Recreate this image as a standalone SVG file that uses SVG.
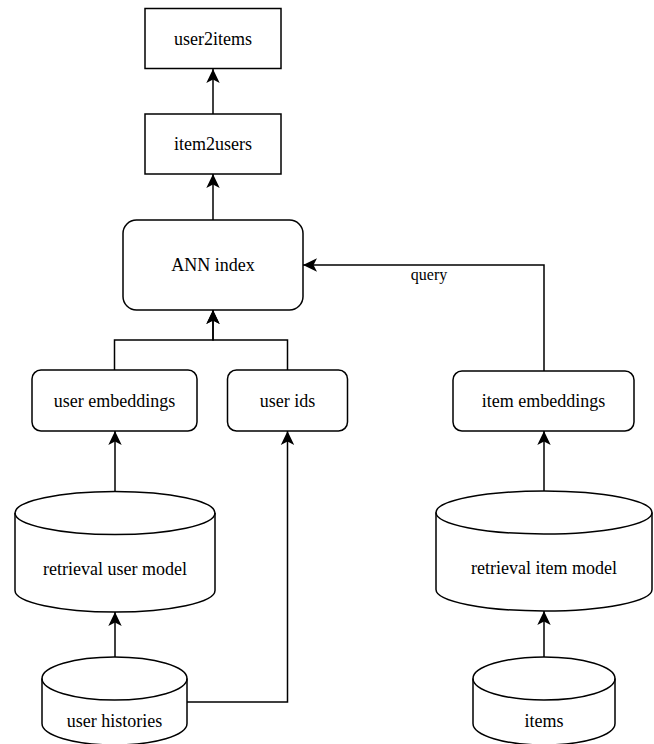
<svg xmlns="http://www.w3.org/2000/svg" width="654" height="744" viewBox="0 0 654 744">
<style>
.box{fill:#fff;stroke:#000;stroke-width:1.5}
.lbl{font-family:'Liberation Serif','DejaVu Serif',serif;font-size:18px;fill:#000;text-anchor:middle}
.elbl{font-family:'Liberation Serif','DejaVu Serif',serif;font-size:16px;fill:#000;text-anchor:middle}
.edge{fill:none;stroke:#000;stroke-width:1.5;marker-end:url(#arr)}
.edge2{fill:none;stroke:#000;stroke-width:1.5}
</style>
<defs>
<marker id="arr" markerUnits="userSpaceOnUse" markerWidth="15" markerHeight="15" viewBox="0 0 15 15" refX="14" refY="7.5" orient="auto">
<path d="M14,7.5 L0,0.8 L3.5,7.5 L0,14.2 Z" fill="#000"/>
</marker>
</defs>
<rect width="654" height="744" fill="#fff"/>
<g id="connectors">
<path class="edge" d="M213,114 L213,69"/>
<path class="edge" d="M213,220 L213,174"/>
<path class="edge" d="M114.5,370 L114.5,340 L213,340 L213,310"/>
<path class="edge" d="M287.5,370 L287.5,340 L213,340 L213,310"/>
<path class="edge" d="M115,491.5 L115,431"/>
<path class="edge" d="M115,657 L115,612"/>
<path class="edge" d="M187,702 L287.5,702 L287.5,431"/>
<path class="edge" d="M544,371 L544,265 L303,265"/>
<text class="elbl" x="429" y="280" font-family="Liberation Serif, DejaVu Serif, serif">query</text>
<path class="edge" d="M544,491 L544,431"/>
<path class="edge" d="M544,657 L544,611"/>
</g>
<g id="user2items">
<rect class="box" x="145" y="8.5" width="136" height="60"/>
<text class="lbl" x="213" y="44.5">user2items</text>
</g>
<g id="item2users">
<rect class="box" x="145" y="114" width="136" height="60"/>
<text class="lbl" x="213" y="150">item2users</text>
</g>
<g id="ann-index">
<rect class="box" x="123" y="220" width="180" height="90" rx="13.5" ry="13.5"/>
<text class="lbl" x="213" y="271">ANN index</text>
</g>
<g id="user-embeddings">
<rect class="box" x="32" y="370" width="165" height="61" rx="9" ry="9"/>
<text class="lbl" x="114.5" y="406.5">user embeddings</text>
</g>
<g id="user-ids">
<rect class="box" x="227.5" y="370" width="120" height="61" rx="9" ry="9"/>
<text class="lbl" x="287.5" y="406.5">user ids</text>
</g>
<g id="item-embeddings">
<rect class="box" x="453" y="371" width="181" height="60" rx="9" ry="9"/>
<text class="lbl" x="543.5" y="407">item embeddings</text>
</g>
<g id="retrieval-user-model">
<path class="box" d="M15,513 A100,21.5 0 0 1 215,513 L215,590.5 A100,21.5 0 0 1 15,590.5 Z"/>
<path class="edge2" d="M15,513 A100,21.5 0 0 0 215,513"/>
<text class="lbl" x="115" y="574.5">retrieval user model</text>
</g>
<g id="retrieval-item-model">
<path class="box" d="M436,512.5 A108,21.5 0 0 1 652,512.5 L652,589.5 A108,21.5 0 0 1 436,589.5 Z"/>
<path class="edge2" d="M436,512.5 A108,21.5 0 0 0 652,512.5"/>
<text class="lbl" x="544" y="573.5">retrieval item model</text>
</g>
<g id="user-histories">
<path class="box" d="M42,678.5 A72.5,21.5 0 0 1 187,678.5 L187,723.5 A72.5,21.5 0 0 1 42,723.5 Z"/>
<path class="edge2" d="M42,678.5 A72.5,21.5 0 0 0 187,678.5"/>
<text class="lbl" x="114.5" y="726.5">user histories</text>
</g>
<g id="items">
<path class="box" d="M473,678.5 A71,21.5 0 0 1 615,678.5 L615,723.5 A71,21.5 0 0 1 473,723.5 Z"/>
<path class="edge2" d="M473,678.5 A71,21.5 0 0 0 615,678.5"/>
<text class="lbl" x="544" y="727">items</text>
</g>
</svg>
